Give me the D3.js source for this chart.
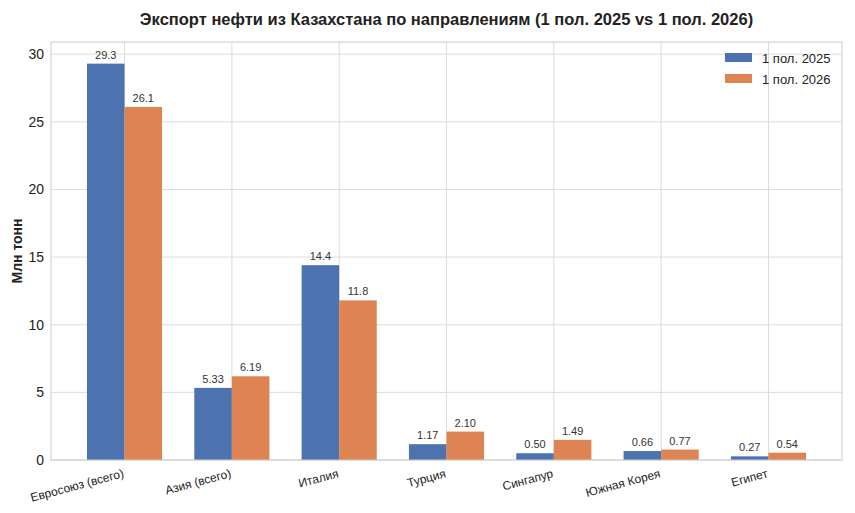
<!DOCTYPE html>
<html>
<head>
<meta charset="utf-8">
<script src="https://cdn.jsdelivr.net/npm/d3@7"></script>
<style>
  body { margin: 0; background: #fff; }
  svg { font-family: "Liberation Sans", Arial, sans-serif; }
</style>
</head>
<body>
<div id="chart"></div>
<script>
// Chart data
const categories = ['Евросоюз (всего)', 'Азия (всего)', 'Италия', 'Турция', 'Сингапур', 'Южная Корея', 'Египет'];
const series = ['1 пол. 2025', '1 пол. 2026'];
const values2025 = [29.3, 5.33, 14.4, 1.17, 0.50, 0.66, 0.27];
const values2026 = [26.1, 6.19, 11.8, 2.10, 1.49, 0.77, 0.54];
const labels2025 = ['29.3', '5.33', '14.4', '1.17', '0.50', '0.66', '0.27'];
const labels2026 = ['26.1', '6.19', '11.8', '2.10', '1.49', '0.77', '0.54'];
const yTicks = [0, 5, 10, 15, 20, 25, 30];

const width = 855, height = 513;
const margin = { top: 42, right: 13, bottom: 53, left: 51 };
const colors = ['#4C72B0', '#DD8452'];
const barW = 0.35;

const svg = d3.select('#chart')
    .append('svg')
    .attr('width', width)
    .attr('height', height);

// x is a linear scale over category index, like matplotlib
const x = d3.scaleLinear()
    .domain([-0.685, categories.length - 1 + 0.685])
    .range([margin.left, width - margin.right]);

const y = d3.scaleLinear()
    .domain([0, 30.9])
    .range([height - margin.bottom, margin.top]);

// grid
const grid = svg.append('g');
grid.selectAll('.hgrid')
    .data(yTicks)
    .join('line')
    .attr('x1', margin.left)
    .attr('x2', width - margin.right)
    .attr('y1', d => y(d))
    .attr('y2', d => y(d))
    .attr('stroke', '#dcdcdc')
    .attr('stroke-width', 1);

grid.selectAll('.vgrid')
    .data(categories)
    .join('line')
    .attr('x1', (d, i) => x(i))
    .attr('x2', (d, i) => x(i))
    .attr('y1', margin.top)
    .attr('y2', height - margin.bottom)
    .attr('stroke', '#dcdcdc')
    .attr('stroke-width', 1);

// bars
const data = [values2025, values2026];
const labels = [labels2025, labels2026];
const offsets = [-barW / 2, barW / 2];

data.forEach((vals, s) => {
    const g = svg.append('g');
    g.selectAll('rect')
        .data(vals)
        .join('rect')
        .attr('x', (d, i) => x(i + offsets[s] - barW / 2))
        .attr('width', x(barW) - x(0))
        .attr('y', d => y(d))
        .attr('height', d => y(0) - y(d))
        .attr('fill', colors[s]);

    g.selectAll('text')
        .data(vals)
        .join('text')
        .attr('x', (d, i) => x(i + offsets[s]))
        .attr('y', d => y(d) - 5)
        .attr('text-anchor', 'middle')
        .attr('font-size', '11px')
        .attr('fill', '#333')
        .text((d, i) => labels[s][i]);
});

// frame
svg.append('rect')
    .attr('x', margin.left)
    .attr('y', margin.top)
    .attr('width', width - margin.left - margin.right)
    .attr('height', height - margin.top - margin.bottom)
    .attr('fill', 'none')
    .attr('stroke', '#cccccc')
    .attr('stroke-width', 1);

// y tick labels
svg.append('g').selectAll('text')
    .data(yTicks)
    .join('text')
    .attr('x', margin.left - 7)
    .attr('y', d => y(d))
    .attr('dy', '0.35em')
    .attr('text-anchor', 'end')
    .attr('font-size', '14px')
    .attr('fill', '#222')
    .text(d => d);

// x tick labels, rotated
svg.append('g').selectAll('text')
    .data(categories)
    .join('text')
    .attr('text-anchor', 'end')
    .attr('font-size', '12px')
    .attr('fill', '#222')
    .attr('transform', (d, i) => `translate(${x(i)},${y(0) + 17}) rotate(-15)`)
    .text(d => d);

// y axis title
svg.append('text')
    .attr('transform', `translate(22,${(margin.top + height - margin.bottom) / 2}) rotate(-90)`)
    .attr('text-anchor', 'middle')
    .attr('font-size', '14px')
    .attr('font-weight', 'bold')
    .attr('fill', '#222')
    .text('Млн тонн');

// title
svg.append('text')
    .attr('x', (margin.left + width - margin.right) / 2)
    .attr('y', 25)
    .attr('text-anchor', 'middle')
    .attr('font-size', '16.5px')
    .attr('font-weight', 'bold')
    .attr('fill', '#222')
    .text('Экспорт нефти из Казахстана по направлениям (1 пол. 2025 vs 1 пол. 2026)');

// legend
const legendG = svg.append('g');
legendG.selectAll('rect')
    .data(series)
    .join('rect')
    .attr('x', 725)
    .attr('y', (d, i) => 53 + i * 21)
    .attr('width', 27)
    .attr('height', 9)
    .attr('fill', (d, i) => colors[i]);

legendG.selectAll('text')
    .data(series)
    .join('text')
    .attr('x', 762)
    .attr('y', (d, i) => 58 + i * 21)
    .attr('dy', '0.35em')
    .attr('font-size', '13px')
    .attr('fill', '#222')
    .text(d => d);
</script>
</body>
</html>
